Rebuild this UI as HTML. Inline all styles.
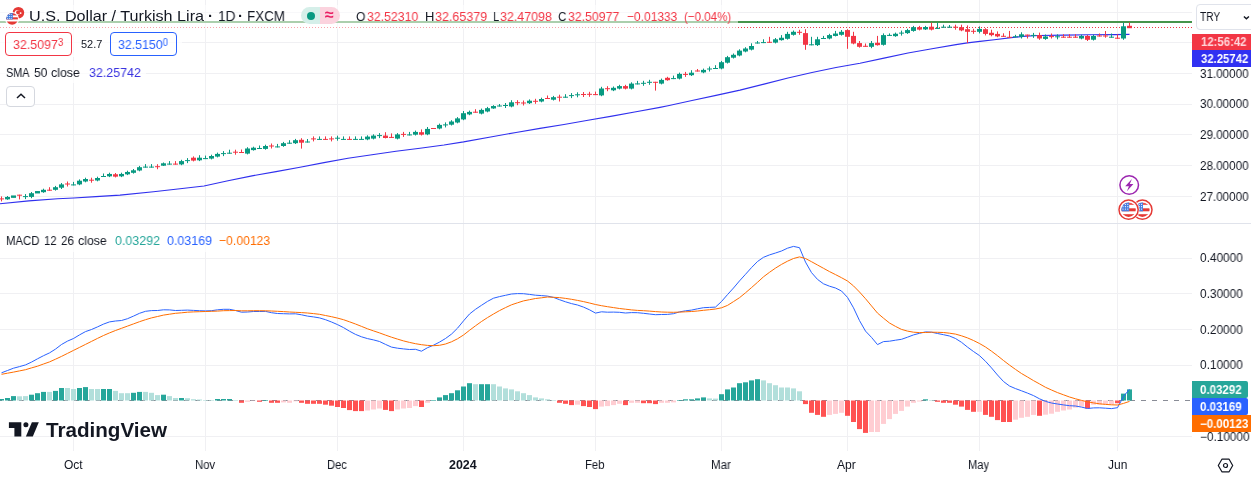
<!DOCTYPE html>
<html><head><meta charset="utf-8"><title>USDTRY chart</title>
<style>
html,body{margin:0;padding:0;background:#fff;}
body{width:1251px;height:478px;position:relative;overflow:hidden;font-family:"Liberation Sans",sans-serif;color:#131722;}
.t{position:absolute;white-space:nowrap;line-height:1;will-change:transform;}
.r{color:#f23645}
.lbl{position:absolute;left:1192px;color:#fff;font-weight:bold;font-size:12px;white-space:nowrap;box-sizing:border-box;padding-left:8px;}
.ax{position:absolute;left:1200px;font-size:12px;white-space:nowrap;line-height:1;color:#131722}
.tm{position:absolute;font-size:12px;white-space:nowrap;line-height:1;transform:translateX(-50%);top:459px}
</style></head><body>
<svg id="chart" width="1251" height="478" viewBox="0 0 1251 478" style="position:absolute;left:0;top:0" shape-rendering="auto">
<g stroke="#f0f0f3" stroke-width="1" shape-rendering="crispEdges">
<line x1="73.5" y1="0" x2="73.5" y2="451"/>
<line x1="205.5" y1="0" x2="205.5" y2="451"/>
<line x1="337.5" y1="0" x2="337.5" y2="451"/>
<line x1="463.5" y1="0" x2="463.5" y2="451"/>
<line x1="595.5" y1="0" x2="595.5" y2="451"/>
<line x1="721.5" y1="0" x2="721.5" y2="451"/>
<line x1="847.5" y1="0" x2="847.5" y2="451"/>
<line x1="979.5" y1="0" x2="979.5" y2="451"/>
<line x1="1117.5" y1="0" x2="1117.5" y2="451"/>
<line x1="0" y1="12.5" x2="1192" y2="12.5"/>
<line x1="0" y1="42.5" x2="1192" y2="42.5"/>
<line x1="0" y1="73.5" x2="1192" y2="73.5"/>
<line x1="0" y1="104.5" x2="1192" y2="104.5"/>
<line x1="0" y1="134.5" x2="1192" y2="134.5"/>
<line x1="0" y1="165.5" x2="1192" y2="165.5"/>
<line x1="0" y1="196.5" x2="1192" y2="196.5"/>
<line x1="0" y1="258.5" x2="1192" y2="258.5"/>
<line x1="0" y1="293.5" x2="1192" y2="293.5"/>
<line x1="0" y1="329.5" x2="1192" y2="329.5"/>
<line x1="0" y1="365.5" x2="1192" y2="365.5"/>
<line x1="0" y1="436.5" x2="1192" y2="436.5"/>
</g>
<line x1="0" y1="223.5" x2="1251" y2="223.5" stroke="#e0e3eb" stroke-width="1" shape-rendering="crispEdges"/>
<line x1="0" y1="22" x2="1192" y2="22" stroke="#46944b" stroke-width="2" shape-rendering="crispEdges"/>
<line x1="0" y1="27.5" x2="1192" y2="27.5" stroke="#f23645" stroke-width="1" stroke-dasharray="1 2" shape-rendering="crispEdges"/>
<polyline fill="none" stroke="#3030ee" stroke-width="1.1" stroke-linejoin="round" points="0.0,203.8 28.8,200.9 57.6,198.8 73.7,198.0 95.9,196.6 120.0,195.1 153.5,191.8 180.0,188.8 204.0,186.0 228.0,180.7 252.0,175.9 276.0,171.6 300.0,167.2 324.0,162.6 348.0,158.3 372.0,154.7 396.0,151.3 420.0,148.2 444.0,145.0 463.6,141.9 492.0,136.7 516.0,132.5 540.0,128.4 564.0,124.5 588.0,120.3 612.0,116.1 636.0,111.7 660.0,107.4 668.0,105.8 692.0,100.5 716.0,95.4 740.0,90.1 764.0,84.1 788.0,78.0 812.0,72.5 836.0,67.5 860.0,63.3 884.0,58.1 908.0,53.0 932.0,48.7 956.0,44.6 967.4,42.9 980.0,41.4 994.2,39.7 1013.4,37.4 1026.2,36.1 1039.0,35.5 1064.5,35.1 1090.0,34.8 1115.7,34.6 1129.5,34.4"/>
<rect x="1.0" y="196.40" width="1" height="5.00" fill="#f23645"/>
<rect x="-1.0" y="198.40" width="5" height="1.00" fill="#f23645"/>
<rect x="7.0" y="196.00" width="1" height="3.80" fill="#089981"/>
<rect x="5.0" y="196.95" width="5" height="2.40" fill="#089981"/>
<rect x="13.0" y="196.00" width="1" height="1.30" fill="#089981"/>
<rect x="11.0" y="195.45" width="5" height="2.40" fill="#089981"/>
<rect x="19.0" y="194.70" width="1" height="4.70" fill="#f23645"/>
<rect x="17.0" y="194.70" width="5" height="1.00" fill="#f23645"/>
<rect x="25.0" y="194.10" width="1" height="5.00" fill="#089981"/>
<rect x="23.0" y="196.10" width="5" height="1.00" fill="#089981"/>
<rect x="31.0" y="192.00" width="1" height="6.20" fill="#089981"/>
<rect x="29.0" y="193.20" width="5" height="3.70" fill="#089981"/>
<rect x="37.0" y="191.50" width="1" height="1.50" fill="#089981"/>
<rect x="35.0" y="191.05" width="5" height="2.40" fill="#089981"/>
<rect x="43.0" y="188.70" width="1" height="4.10" fill="#089981"/>
<rect x="41.0" y="189.80" width="5" height="2.40" fill="#089981"/>
<rect x="49.0" y="187.20" width="1" height="3.50" fill="#f23645"/>
<rect x="47.0" y="189.70" width="5" height="1.00" fill="#f23645"/>
<rect x="55.0" y="185.90" width="1" height="4.70" fill="#089981"/>
<rect x="53.0" y="187.20" width="5" height="2.60" fill="#089981"/>
<rect x="61.0" y="183.00" width="1" height="6.00" fill="#089981"/>
<rect x="59.0" y="184.40" width="5" height="3.30" fill="#089981"/>
<rect x="67.0" y="181.50" width="1" height="5.00" fill="#f23645"/>
<rect x="65.0" y="183.50" width="5" height="1.00" fill="#f23645"/>
<rect x="73.0" y="181.90" width="1" height="3.50" fill="#089981"/>
<rect x="71.0" y="184.40" width="5" height="1.00" fill="#089981"/>
<rect x="79.0" y="179.40" width="1" height="5.80" fill="#089981"/>
<rect x="77.0" y="180.70" width="5" height="3.70" fill="#089981"/>
<rect x="85.0" y="177.70" width="1" height="4.60" fill="#089981"/>
<rect x="83.0" y="179.00" width="5" height="2.50" fill="#089981"/>
<rect x="91.0" y="177.70" width="1" height="5.00" fill="#f23645"/>
<rect x="89.0" y="179.70" width="5" height="1.00" fill="#f23645"/>
<rect x="97.0" y="176.70" width="1" height="4.60" fill="#089981"/>
<rect x="95.0" y="178.00" width="5" height="2.50" fill="#089981"/>
<rect x="103.0" y="173.50" width="1" height="3.50" fill="#089981"/>
<rect x="101.0" y="176.00" width="5" height="1.00" fill="#089981"/>
<rect x="109.0" y="172.70" width="1" height="4.40" fill="#089981"/>
<rect x="107.0" y="173.95" width="5" height="2.40" fill="#089981"/>
<rect x="115.0" y="173.00" width="1" height="4.40" fill="#f23645"/>
<rect x="113.0" y="174.25" width="5" height="2.40" fill="#f23645"/>
<rect x="121.0" y="172.70" width="1" height="4.40" fill="#089981"/>
<rect x="119.0" y="173.95" width="5" height="2.40" fill="#089981"/>
<rect x="127.0" y="170.70" width="1" height="4.40" fill="#089981"/>
<rect x="125.0" y="171.95" width="5" height="2.40" fill="#089981"/>
<rect x="133.0" y="169.00" width="1" height="4.60" fill="#089981"/>
<rect x="131.0" y="170.30" width="5" height="2.50" fill="#089981"/>
<rect x="139.0" y="165.90" width="1" height="5.40" fill="#089981"/>
<rect x="137.0" y="167.20" width="5" height="3.30" fill="#089981"/>
<rect x="145.0" y="164.10" width="1" height="3.50" fill="#089981"/>
<rect x="143.0" y="166.60" width="5" height="1.00" fill="#089981"/>
<rect x="151.0" y="164.10" width="1" height="3.50" fill="#089981"/>
<rect x="149.0" y="166.60" width="5" height="1.00" fill="#089981"/>
<rect x="157.0" y="164.20" width="1" height="5.00" fill="#f23645"/>
<rect x="155.0" y="166.20" width="5" height="1.00" fill="#f23645"/>
<rect x="163.0" y="162.50" width="1" height="3.50" fill="#089981"/>
<rect x="161.0" y="163.30" width="5" height="2.40" fill="#089981"/>
<rect x="169.0" y="161.10" width="1" height="3.50" fill="#089981"/>
<rect x="167.0" y="163.60" width="5" height="1.00" fill="#089981"/>
<rect x="175.0" y="161.10" width="1" height="3.50" fill="#f23645"/>
<rect x="173.0" y="163.60" width="5" height="1.00" fill="#f23645"/>
<rect x="181.0" y="159.80" width="1" height="5.40" fill="#089981"/>
<rect x="179.0" y="161.10" width="5" height="3.30" fill="#089981"/>
<rect x="187.0" y="158.10" width="1" height="5.00" fill="#089981"/>
<rect x="185.0" y="160.10" width="5" height="1.00" fill="#089981"/>
<rect x="193.0" y="156.40" width="1" height="5.00" fill="#f23645"/>
<rect x="191.0" y="157.70" width="5" height="2.90" fill="#f23645"/>
<rect x="199.0" y="155.20" width="1" height="5.90" fill="#089981"/>
<rect x="197.0" y="157.70" width="5" height="2.60" fill="#089981"/>
<rect x="205.0" y="155.60" width="1" height="3.50" fill="#089981"/>
<rect x="203.0" y="158.10" width="5" height="1.00" fill="#089981"/>
<rect x="211.0" y="154.70" width="1" height="4.70" fill="#089981"/>
<rect x="209.0" y="156.00" width="5" height="2.60" fill="#089981"/>
<rect x="217.0" y="152.60" width="1" height="4.80" fill="#089981"/>
<rect x="215.0" y="153.90" width="5" height="2.70" fill="#089981"/>
<rect x="223.0" y="151.10" width="1" height="5.00" fill="#089981"/>
<rect x="221.0" y="153.10" width="5" height="1.00" fill="#089981"/>
<rect x="229.0" y="149.70" width="1" height="4.00" fill="#089981"/>
<rect x="227.0" y="152.70" width="5" height="1.00" fill="#089981"/>
<rect x="235.0" y="149.70" width="1" height="5.00" fill="#f23645"/>
<rect x="233.0" y="151.70" width="5" height="1.00" fill="#f23645"/>
<rect x="241.0" y="149.50" width="1" height="3.50" fill="#f23645"/>
<rect x="239.0" y="152.00" width="5" height="1.00" fill="#f23645"/>
<rect x="247.0" y="147.20" width="1" height="7.20" fill="#089981"/>
<rect x="245.0" y="148.50" width="5" height="5.10" fill="#089981"/>
<rect x="253.0" y="146.70" width="1" height="3.90" fill="#089981"/>
<rect x="251.0" y="147.70" width="5" height="2.40" fill="#089981"/>
<rect x="259.0" y="145.50" width="1" height="3.50" fill="#089981"/>
<rect x="257.0" y="148.00" width="5" height="1.00" fill="#089981"/>
<rect x="265.0" y="144.70" width="1" height="5.00" fill="#089981"/>
<rect x="263.0" y="146.00" width="5" height="2.90" fill="#089981"/>
<rect x="271.0" y="143.50" width="1" height="5.00" fill="#f23645"/>
<rect x="269.0" y="145.50" width="5" height="1.00" fill="#f23645"/>
<rect x="277.0" y="143.90" width="1" height="3.50" fill="#089981"/>
<rect x="275.0" y="146.40" width="5" height="1.00" fill="#089981"/>
<rect x="283.0" y="141.90" width="1" height="4.90" fill="#089981"/>
<rect x="281.0" y="143.20" width="5" height="2.80" fill="#089981"/>
<rect x="289.0" y="140.20" width="1" height="3.50" fill="#089981"/>
<rect x="287.0" y="142.70" width="5" height="1.00" fill="#089981"/>
<rect x="295.0" y="138.90" width="1" height="5.10" fill="#089981"/>
<rect x="293.0" y="140.20" width="5" height="3.00" fill="#089981"/>
<rect x="301.0" y="138.20" width="1" height="10.40" fill="#f23645"/>
<rect x="299.0" y="139.80" width="5" height="2.90" fill="#f23645"/>
<rect x="307.0" y="139.00" width="1" height="3.50" fill="#089981"/>
<rect x="305.0" y="141.50" width="5" height="1.00" fill="#089981"/>
<rect x="313.0" y="136.40" width="1" height="5.00" fill="#f23645"/>
<rect x="311.0" y="138.40" width="5" height="1.00" fill="#f23645"/>
<rect x="319.0" y="136.40" width="1" height="3.50" fill="#089981"/>
<rect x="317.0" y="138.90" width="5" height="1.00" fill="#089981"/>
<rect x="325.0" y="136.40" width="1" height="3.50" fill="#f23645"/>
<rect x="323.0" y="138.90" width="5" height="1.00" fill="#f23645"/>
<rect x="331.0" y="136.40" width="1" height="5.00" fill="#f23645"/>
<rect x="329.0" y="138.40" width="5" height="1.00" fill="#f23645"/>
<rect x="337.0" y="135.70" width="1" height="5.00" fill="#089981"/>
<rect x="335.0" y="137.70" width="5" height="1.00" fill="#089981"/>
<rect x="343.0" y="136.40" width="1" height="3.50" fill="#089981"/>
<rect x="341.0" y="138.90" width="5" height="1.00" fill="#089981"/>
<rect x="349.0" y="136.40" width="1" height="3.50" fill="#f23645"/>
<rect x="347.0" y="138.90" width="5" height="1.00" fill="#f23645"/>
<rect x="355.0" y="136.40" width="1" height="3.50" fill="#089981"/>
<rect x="353.0" y="138.90" width="5" height="1.00" fill="#089981"/>
<rect x="361.0" y="136.40" width="1" height="3.50" fill="#089981"/>
<rect x="359.0" y="138.90" width="5" height="1.00" fill="#089981"/>
<rect x="367.0" y="135.30" width="1" height="4.90" fill="#089981"/>
<rect x="365.0" y="136.60" width="5" height="2.80" fill="#089981"/>
<rect x="373.0" y="134.30" width="1" height="5.10" fill="#089981"/>
<rect x="371.0" y="135.60" width="5" height="3.00" fill="#089981"/>
<rect x="379.0" y="133.10" width="1" height="5.00" fill="#089981"/>
<rect x="377.0" y="135.10" width="5" height="1.00" fill="#089981"/>
<rect x="385.0" y="132.20" width="1" height="6.20" fill="#f23645"/>
<rect x="383.0" y="135.60" width="5" height="2.40" fill="#f23645"/>
<rect x="391.0" y="133.40" width="1" height="4.50" fill="#f23645"/>
<rect x="389.0" y="136.90" width="5" height="1.00" fill="#f23645"/>
<rect x="397.0" y="133.10" width="1" height="6.30" fill="#089981"/>
<rect x="395.0" y="134.40" width="5" height="4.20" fill="#089981"/>
<rect x="403.0" y="131.90" width="1" height="5.00" fill="#f23645"/>
<rect x="401.0" y="133.90" width="5" height="1.00" fill="#f23645"/>
<rect x="409.0" y="131.90" width="1" height="3.50" fill="#089981"/>
<rect x="407.0" y="134.40" width="5" height="1.00" fill="#089981"/>
<rect x="415.0" y="130.60" width="1" height="4.90" fill="#089981"/>
<rect x="413.0" y="131.90" width="5" height="2.80" fill="#089981"/>
<rect x="421.0" y="129.40" width="1" height="6.10" fill="#f23645"/>
<rect x="419.0" y="132.20" width="5" height="2.50" fill="#f23645"/>
<rect x="427.0" y="127.00" width="1" height="8.20" fill="#089981"/>
<rect x="425.0" y="128.90" width="5" height="5.50" fill="#089981"/>
<rect x="433.0" y="128.00" width="1" height="1.00" fill="#f23645"/>
<rect x="431.0" y="128.00" width="5" height="1.00" fill="#f23645"/>
<rect x="439.0" y="123.60" width="1" height="5.70" fill="#089981"/>
<rect x="437.0" y="124.90" width="5" height="3.60" fill="#089981"/>
<rect x="445.0" y="122.40" width="1" height="5.00" fill="#089981"/>
<rect x="443.0" y="124.40" width="5" height="1.00" fill="#089981"/>
<rect x="451.0" y="120.20" width="1" height="5.30" fill="#089981"/>
<rect x="449.0" y="121.50" width="5" height="3.20" fill="#089981"/>
<rect x="457.0" y="117.10" width="1" height="6.20" fill="#089981"/>
<rect x="455.0" y="118.40" width="5" height="4.10" fill="#089981"/>
<rect x="463.0" y="111.00" width="1" height="9.20" fill="#089981"/>
<rect x="461.0" y="113.20" width="5" height="6.20" fill="#089981"/>
<rect x="469.0" y="110.60" width="1" height="4.60" fill="#089981"/>
<rect x="467.0" y="111.90" width="5" height="2.50" fill="#089981"/>
<rect x="475.0" y="109.20" width="1" height="3.50" fill="#f23645"/>
<rect x="473.0" y="111.70" width="5" height="1.00" fill="#f23645"/>
<rect x="481.0" y="108.60" width="1" height="5.80" fill="#089981"/>
<rect x="479.0" y="109.90" width="5" height="3.70" fill="#089981"/>
<rect x="487.0" y="106.90" width="1" height="5.40" fill="#089981"/>
<rect x="485.0" y="108.20" width="5" height="3.30" fill="#089981"/>
<rect x="493.0" y="105.20" width="1" height="3.60" fill="#089981"/>
<rect x="491.0" y="106.05" width="5" height="2.40" fill="#089981"/>
<rect x="499.0" y="104.00" width="1" height="2.50" fill="#089981"/>
<rect x="497.0" y="105.50" width="5" height="1.00" fill="#089981"/>
<rect x="505.0" y="103.00" width="1" height="5.00" fill="#089981"/>
<rect x="503.0" y="105.00" width="5" height="1.00" fill="#089981"/>
<rect x="511.0" y="100.20" width="1" height="7.10" fill="#089981"/>
<rect x="509.0" y="102.30" width="5" height="4.20" fill="#089981"/>
<rect x="517.0" y="100.20" width="1" height="5.00" fill="#f23645"/>
<rect x="515.0" y="102.20" width="5" height="1.00" fill="#f23645"/>
<rect x="523.0" y="100.50" width="1" height="5.00" fill="#f23645"/>
<rect x="521.0" y="102.50" width="5" height="1.00" fill="#f23645"/>
<rect x="529.0" y="99.40" width="1" height="4.60" fill="#089981"/>
<rect x="527.0" y="100.70" width="5" height="2.50" fill="#089981"/>
<rect x="535.0" y="98.80" width="1" height="5.00" fill="#f23645"/>
<rect x="533.0" y="100.80" width="5" height="1.00" fill="#f23645"/>
<rect x="541.0" y="97.70" width="1" height="4.60" fill="#089981"/>
<rect x="539.0" y="99.00" width="5" height="2.50" fill="#089981"/>
<rect x="547.0" y="95.50" width="1" height="3.50" fill="#f23645"/>
<rect x="545.0" y="98.00" width="5" height="1.00" fill="#f23645"/>
<rect x="553.0" y="95.90" width="1" height="4.60" fill="#089981"/>
<rect x="551.0" y="97.20" width="5" height="2.50" fill="#089981"/>
<rect x="559.0" y="94.70" width="1" height="6.80" fill="#f23645"/>
<rect x="557.0" y="96.70" width="5" height="1.00" fill="#f23645"/>
<rect x="565.0" y="94.20" width="1" height="3.50" fill="#089981"/>
<rect x="563.0" y="96.70" width="5" height="1.00" fill="#089981"/>
<rect x="571.0" y="93.10" width="1" height="5.00" fill="#089981"/>
<rect x="569.0" y="95.10" width="5" height="1.00" fill="#089981"/>
<rect x="577.0" y="92.30" width="1" height="5.00" fill="#089981"/>
<rect x="575.0" y="94.30" width="5" height="1.00" fill="#089981"/>
<rect x="583.0" y="92.00" width="1" height="5.00" fill="#f23645"/>
<rect x="581.0" y="94.00" width="5" height="1.00" fill="#f23645"/>
<rect x="589.0" y="91.80" width="1" height="5.00" fill="#f23645"/>
<rect x="587.0" y="93.80" width="5" height="1.00" fill="#f23645"/>
<rect x="595.0" y="91.60" width="1" height="3.50" fill="#f23645"/>
<rect x="593.0" y="94.10" width="5" height="1.00" fill="#f23645"/>
<rect x="601.0" y="86.80" width="1" height="9.40" fill="#089981"/>
<rect x="599.0" y="88.50" width="5" height="6.90" fill="#089981"/>
<rect x="607.0" y="86.20" width="1" height="5.00" fill="#f23645"/>
<rect x="605.0" y="88.20" width="5" height="1.00" fill="#f23645"/>
<rect x="613.0" y="86.50" width="1" height="4.60" fill="#089981"/>
<rect x="611.0" y="87.80" width="5" height="2.50" fill="#089981"/>
<rect x="619.0" y="84.80" width="1" height="4.60" fill="#089981"/>
<rect x="617.0" y="86.10" width="5" height="2.50" fill="#089981"/>
<rect x="625.0" y="84.80" width="1" height="4.60" fill="#f23645"/>
<rect x="623.0" y="86.10" width="5" height="2.50" fill="#f23645"/>
<rect x="631.0" y="82.30" width="1" height="7.10" fill="#089981"/>
<rect x="629.0" y="83.60" width="5" height="5.00" fill="#089981"/>
<rect x="637.0" y="80.90" width="1" height="3.50" fill="#089981"/>
<rect x="635.0" y="83.40" width="5" height="1.00" fill="#089981"/>
<rect x="643.0" y="80.80" width="1" height="5.00" fill="#089981"/>
<rect x="641.0" y="82.80" width="5" height="1.00" fill="#089981"/>
<rect x="649.0" y="79.80" width="1" height="5.00" fill="#089981"/>
<rect x="647.0" y="81.80" width="5" height="1.00" fill="#089981"/>
<rect x="655.0" y="81.80" width="1" height="8.80" fill="#f23645"/>
<rect x="653.0" y="81.80" width="5" height="1.00" fill="#f23645"/>
<rect x="661.0" y="78.60" width="1" height="5.80" fill="#089981"/>
<rect x="659.0" y="79.90" width="5" height="3.70" fill="#089981"/>
<rect x="667.0" y="76.80" width="1" height="3.90" fill="#f23645"/>
<rect x="665.0" y="77.80" width="5" height="2.40" fill="#f23645"/>
<rect x="673.0" y="75.60" width="1" height="3.50" fill="#089981"/>
<rect x="671.0" y="78.10" width="5" height="1.00" fill="#089981"/>
<rect x="679.0" y="72.60" width="1" height="6.80" fill="#089981"/>
<rect x="677.0" y="73.90" width="5" height="4.70" fill="#089981"/>
<rect x="685.0" y="71.90" width="1" height="5.00" fill="#f23645"/>
<rect x="683.0" y="73.90" width="5" height="1.00" fill="#f23645"/>
<rect x="691.0" y="70.20" width="1" height="5.80" fill="#089981"/>
<rect x="689.0" y="72.70" width="5" height="2.50" fill="#089981"/>
<rect x="697.0" y="69.00" width="1" height="2.50" fill="#f23645"/>
<rect x="695.0" y="70.50" width="5" height="1.00" fill="#f23645"/>
<rect x="703.0" y="68.60" width="1" height="4.60" fill="#089981"/>
<rect x="701.0" y="69.90" width="5" height="2.50" fill="#089981"/>
<rect x="709.0" y="66.50" width="1" height="5.00" fill="#089981"/>
<rect x="707.0" y="68.50" width="5" height="1.00" fill="#089981"/>
<rect x="715.0" y="65.20" width="1" height="3.80" fill="#089981"/>
<rect x="713.0" y="68.00" width="5" height="1.00" fill="#089981"/>
<rect x="721.0" y="60.90" width="1" height="8.40" fill="#089981"/>
<rect x="719.0" y="62.20" width="5" height="6.30" fill="#089981"/>
<rect x="727.0" y="55.90" width="1" height="7.60" fill="#089981"/>
<rect x="725.0" y="57.20" width="5" height="5.50" fill="#089981"/>
<rect x="733.0" y="53.50" width="1" height="5.00" fill="#089981"/>
<rect x="731.0" y="54.80" width="5" height="2.90" fill="#089981"/>
<rect x="739.0" y="49.30" width="1" height="7.00" fill="#089981"/>
<rect x="737.0" y="50.60" width="5" height="4.90" fill="#089981"/>
<rect x="745.0" y="47.20" width="1" height="5.10" fill="#089981"/>
<rect x="743.0" y="48.50" width="5" height="3.00" fill="#089981"/>
<rect x="751.0" y="43.30" width="1" height="7.10" fill="#089981"/>
<rect x="749.0" y="46.00" width="5" height="3.60" fill="#089981"/>
<rect x="757.0" y="41.00" width="1" height="2.50" fill="#089981"/>
<rect x="755.0" y="42.50" width="5" height="1.00" fill="#089981"/>
<rect x="763.0" y="39.30" width="1" height="3.80" fill="#089981"/>
<rect x="761.0" y="42.10" width="5" height="1.00" fill="#089981"/>
<rect x="769.0" y="36.80" width="1" height="6.00" fill="#f23645"/>
<rect x="767.0" y="41.80" width="5" height="1.00" fill="#f23645"/>
<rect x="775.0" y="38.00" width="1" height="5.40" fill="#089981"/>
<rect x="773.0" y="39.30" width="5" height="3.30" fill="#089981"/>
<rect x="781.0" y="35.10" width="1" height="5.50" fill="#089981"/>
<rect x="779.0" y="37.75" width="5" height="2.40" fill="#089981"/>
<rect x="787.0" y="31.80" width="1" height="7.80" fill="#089981"/>
<rect x="785.0" y="33.90" width="5" height="4.90" fill="#089981"/>
<rect x="793.0" y="30.50" width="1" height="5.10" fill="#089981"/>
<rect x="791.0" y="31.80" width="5" height="3.00" fill="#089981"/>
<rect x="799.0" y="29.80" width="1" height="5.00" fill="#f23645"/>
<rect x="797.0" y="31.80" width="5" height="1.00" fill="#f23645"/>
<rect x="805.0" y="29.20" width="1" height="20.60" fill="#f23645"/>
<rect x="803.0" y="33.10" width="5" height="11.70" fill="#f23645"/>
<rect x="811.0" y="36.80" width="1" height="8.50" fill="#089981"/>
<rect x="809.0" y="44.30" width="5" height="1.00" fill="#089981"/>
<rect x="817.0" y="36.80" width="1" height="9.20" fill="#089981"/>
<rect x="815.0" y="39.30" width="5" height="5.80" fill="#089981"/>
<rect x="823.0" y="35.90" width="1" height="3.10" fill="#089981"/>
<rect x="821.0" y="38.00" width="5" height="1.00" fill="#089981"/>
<rect x="829.0" y="33.80" width="1" height="5.50" fill="#089981"/>
<rect x="827.0" y="35.10" width="5" height="3.40" fill="#089981"/>
<rect x="835.0" y="30.90" width="1" height="5.50" fill="#089981"/>
<rect x="833.0" y="33.55" width="5" height="2.40" fill="#089981"/>
<rect x="841.0" y="30.00" width="1" height="5.60" fill="#089981"/>
<rect x="839.0" y="31.80" width="5" height="3.00" fill="#089981"/>
<rect x="847.0" y="29.20" width="1" height="19.60" fill="#f23645"/>
<rect x="845.0" y="30.10" width="5" height="6.70" fill="#f23645"/>
<rect x="853.0" y="31.80" width="1" height="12.50" fill="#f23645"/>
<rect x="851.0" y="35.90" width="5" height="7.60" fill="#f23645"/>
<rect x="859.0" y="41.00" width="1" height="6.60" fill="#f23645"/>
<rect x="857.0" y="43.10" width="5" height="3.70" fill="#f23645"/>
<rect x="865.0" y="43.50" width="1" height="3.30" fill="#f23645"/>
<rect x="863.0" y="45.80" width="5" height="1.00" fill="#f23645"/>
<rect x="871.0" y="41.00" width="1" height="7.20" fill="#089981"/>
<rect x="869.0" y="43.10" width="5" height="3.70" fill="#089981"/>
<rect x="877.0" y="35.90" width="1" height="9.70" fill="#f23645"/>
<rect x="875.0" y="42.75" width="5" height="2.40" fill="#f23645"/>
<rect x="883.0" y="33.40" width="1" height="12.20" fill="#089981"/>
<rect x="881.0" y="35.10" width="5" height="9.70" fill="#089981"/>
<rect x="889.0" y="33.40" width="1" height="2.50" fill="#089981"/>
<rect x="887.0" y="34.90" width="5" height="1.00" fill="#089981"/>
<rect x="895.0" y="32.60" width="1" height="4.20" fill="#089981"/>
<rect x="893.0" y="33.75" width="5" height="2.40" fill="#089981"/>
<rect x="901.0" y="30.60" width="1" height="5.00" fill="#089981"/>
<rect x="899.0" y="32.60" width="5" height="1.00" fill="#089981"/>
<rect x="907.0" y="28.80" width="1" height="5.10" fill="#089981"/>
<rect x="905.0" y="30.10" width="5" height="3.00" fill="#089981"/>
<rect x="913.0" y="25.90" width="1" height="5.80" fill="#089981"/>
<rect x="911.0" y="27.20" width="5" height="3.70" fill="#089981"/>
<rect x="919.0" y="25.90" width="1" height="4.50" fill="#f23645"/>
<rect x="917.0" y="27.20" width="5" height="2.40" fill="#f23645"/>
<rect x="925.0" y="25.90" width="1" height="4.10" fill="#089981"/>
<rect x="923.0" y="27.00" width="5" height="2.40" fill="#089981"/>
<rect x="931.0" y="22.60" width="1" height="7.80" fill="#f23645"/>
<rect x="929.0" y="26.70" width="5" height="2.90" fill="#f23645"/>
<rect x="937.0" y="22.60" width="1" height="6.30" fill="#089981"/>
<rect x="935.0" y="27.90" width="5" height="1.00" fill="#089981"/>
<rect x="943.0" y="24.70" width="1" height="3.00" fill="#089981"/>
<rect x="941.0" y="26.70" width="5" height="1.00" fill="#089981"/>
<rect x="949.0" y="25.00" width="1" height="2.70" fill="#089981"/>
<rect x="947.0" y="26.70" width="5" height="1.00" fill="#089981"/>
<rect x="955.0" y="24.70" width="1" height="5.00" fill="#f23645"/>
<rect x="953.0" y="26.70" width="5" height="1.00" fill="#f23645"/>
<rect x="961.0" y="24.70" width="1" height="6.50" fill="#f23645"/>
<rect x="959.0" y="27.20" width="5" height="3.20" fill="#f23645"/>
<rect x="967.0" y="25.40" width="1" height="17.70" fill="#f23645"/>
<rect x="965.0" y="29.20" width="5" height="2.60" fill="#f23645"/>
<rect x="973.0" y="28.80" width="1" height="5.00" fill="#f23645"/>
<rect x="971.0" y="30.80" width="5" height="1.00" fill="#f23645"/>
<rect x="979.0" y="26.40" width="1" height="7.00" fill="#089981"/>
<rect x="977.0" y="28.90" width="5" height="2.90" fill="#089981"/>
<rect x="985.0" y="28.20" width="1" height="7.20" fill="#f23645"/>
<rect x="983.0" y="29.20" width="5" height="4.70" fill="#f23645"/>
<rect x="991.0" y="29.70" width="1" height="6.60" fill="#f23645"/>
<rect x="989.0" y="32.75" width="5" height="2.40" fill="#f23645"/>
<rect x="997.0" y="31.40" width="1" height="5.80" fill="#f23645"/>
<rect x="995.0" y="33.90" width="5" height="2.50" fill="#f23645"/>
<rect x="1003.0" y="33.30" width="1" height="3.50" fill="#f23645"/>
<rect x="1001.0" y="35.80" width="5" height="1.00" fill="#f23645"/>
<rect x="1009.0" y="30.90" width="1" height="6.90" fill="#f23645"/>
<rect x="1007.0" y="36.80" width="5" height="1.00" fill="#f23645"/>
<rect x="1015.0" y="34.80" width="1" height="2.50" fill="#089981"/>
<rect x="1013.0" y="36.30" width="5" height="1.00" fill="#089981"/>
<rect x="1021.0" y="32.30" width="1" height="6.20" fill="#089981"/>
<rect x="1019.0" y="34.30" width="5" height="2.50" fill="#089981"/>
<rect x="1027.0" y="34.60" width="1" height="3.90" fill="#f23645"/>
<rect x="1025.0" y="34.60" width="5" height="1.00" fill="#f23645"/>
<rect x="1033.0" y="32.90" width="1" height="5.00" fill="#089981"/>
<rect x="1031.0" y="34.90" width="5" height="1.00" fill="#089981"/>
<rect x="1039.0" y="32.60" width="1" height="7.20" fill="#f23645"/>
<rect x="1037.0" y="35.10" width="5" height="3.40" fill="#f23645"/>
<rect x="1045.0" y="34.50" width="1" height="5.30" fill="#089981"/>
<rect x="1043.0" y="36.50" width="5" height="2.40" fill="#089981"/>
<rect x="1051.0" y="33.50" width="1" height="5.00" fill="#f23645"/>
<rect x="1049.0" y="36.10" width="5" height="1.00" fill="#f23645"/>
<rect x="1057.0" y="34.30" width="1" height="5.00" fill="#089981"/>
<rect x="1055.0" y="36.30" width="5" height="1.00" fill="#089981"/>
<rect x="1063.0" y="34.20" width="1" height="3.50" fill="#f23645"/>
<rect x="1061.0" y="36.70" width="5" height="1.00" fill="#f23645"/>
<rect x="1069.0" y="34.20" width="1" height="3.50" fill="#f23645"/>
<rect x="1067.0" y="36.70" width="5" height="1.00" fill="#f23645"/>
<rect x="1075.0" y="34.20" width="1" height="3.50" fill="#f23645"/>
<rect x="1073.0" y="36.70" width="5" height="1.00" fill="#f23645"/>
<rect x="1081.0" y="34.70" width="1" height="4.60" fill="#089981"/>
<rect x="1079.0" y="36.00" width="5" height="2.50" fill="#089981"/>
<rect x="1087.0" y="35.00" width="1" height="6.00" fill="#f23645"/>
<rect x="1085.0" y="36.00" width="5" height="3.80" fill="#f23645"/>
<rect x="1093.0" y="34.70" width="1" height="5.80" fill="#089981"/>
<rect x="1091.0" y="36.00" width="5" height="3.70" fill="#089981"/>
<rect x="1099.0" y="33.50" width="1" height="3.00" fill="#f23645"/>
<rect x="1097.0" y="35.50" width="5" height="1.00" fill="#f23645"/>
<rect x="1105.0" y="31.00" width="1" height="6.70" fill="#f23645"/>
<rect x="1103.0" y="35.50" width="5" height="1.00" fill="#f23645"/>
<rect x="1111.0" y="33.50" width="1" height="4.20" fill="#089981"/>
<rect x="1109.0" y="36.70" width="5" height="1.00" fill="#089981"/>
<rect x="1117.0" y="34.30" width="1" height="4.40" fill="#f23645"/>
<rect x="1115.0" y="37.70" width="5" height="1.00" fill="#f23645"/>
<rect x="1123.0" y="22.60" width="1" height="17.20" fill="#089981"/>
<rect x="1121.0" y="26.30" width="5" height="12.20" fill="#089981"/>
<rect x="1129.0" y="22.60" width="1" height="5.00" fill="#f23645"/>
<rect x="1127.0" y="25.80" width="5" height="2.40" fill="#f23645"/>
<line x1="-3" y1="400.5" x2="1192" y2="400.5" stroke="#8a8d97" stroke-width="1" stroke-dasharray="5 6" shape-rendering="crispEdges"/>
<rect x="-1.0" y="399.00" width="5" height="1.50" fill="#26a69a"/>
<rect x="5.0" y="398.00" width="5" height="2.50" fill="#26a69a"/>
<rect x="11.0" y="396.10" width="5" height="4.40" fill="#26a69a"/>
<rect x="17.0" y="396.30" width="5" height="4.20" fill="#b2dfdb"/>
<rect x="23.0" y="396.10" width="5" height="4.40" fill="#b2dfdb"/>
<rect x="29.0" y="394.70" width="5" height="5.80" fill="#26a69a"/>
<rect x="35.0" y="393.20" width="5" height="7.30" fill="#26a69a"/>
<rect x="41.0" y="391.90" width="5" height="8.60" fill="#26a69a"/>
<rect x="47.0" y="391.90" width="5" height="8.60" fill="#b2dfdb"/>
<rect x="53.0" y="390.90" width="5" height="9.60" fill="#26a69a"/>
<rect x="59.0" y="388.00" width="5" height="12.50" fill="#26a69a"/>
<rect x="65.0" y="388.00" width="5" height="12.50" fill="#b2dfdb"/>
<rect x="71.0" y="389.00" width="5" height="11.50" fill="#b2dfdb"/>
<rect x="77.0" y="388.00" width="5" height="12.50" fill="#26a69a"/>
<rect x="83.0" y="387.10" width="5" height="13.40" fill="#26a69a"/>
<rect x="89.0" y="389.00" width="5" height="11.50" fill="#b2dfdb"/>
<rect x="95.0" y="389.00" width="5" height="11.50" fill="#b2dfdb"/>
<rect x="101.0" y="389.00" width="5" height="11.50" fill="#26a69a"/>
<rect x="107.0" y="389.00" width="5" height="11.50" fill="#26a69a"/>
<rect x="113.0" y="390.90" width="5" height="9.60" fill="#b2dfdb"/>
<rect x="119.0" y="393.20" width="5" height="7.30" fill="#b2dfdb"/>
<rect x="125.0" y="393.20" width="5" height="7.30" fill="#b2dfdb"/>
<rect x="131.0" y="392.80" width="5" height="7.70" fill="#26a69a"/>
<rect x="137.0" y="391.90" width="5" height="8.60" fill="#26a69a"/>
<rect x="143.0" y="391.90" width="5" height="8.60" fill="#b2dfdb"/>
<rect x="149.0" y="392.80" width="5" height="7.70" fill="#b2dfdb"/>
<rect x="155.0" y="395.10" width="5" height="5.40" fill="#b2dfdb"/>
<rect x="161.0" y="394.70" width="5" height="5.80" fill="#26a69a"/>
<rect x="167.0" y="396.10" width="5" height="4.40" fill="#b2dfdb"/>
<rect x="173.0" y="398.00" width="5" height="2.50" fill="#b2dfdb"/>
<rect x="179.0" y="398.00" width="5" height="2.50" fill="#26a69a"/>
<rect x="185.0" y="398.20" width="5" height="2.30" fill="#b2dfdb"/>
<rect x="191.0" y="399.20" width="5" height="1.30" fill="#b2dfdb"/>
<rect x="197.0" y="399.50" width="5" height="1.00" fill="#b2dfdb"/>
<rect x="203.0" y="400.00" width="5" height="0.60" fill="#b2dfdb"/>
<rect x="209.0" y="400.10" width="5" height="0.60" fill="#b2dfdb"/>
<rect x="215.0" y="399.00" width="5" height="1.50" fill="#26a69a"/>
<rect x="221.0" y="399.00" width="5" height="1.50" fill="#26a69a"/>
<rect x="227.0" y="399.00" width="5" height="1.50" fill="#26a69a"/>
<rect x="233.0" y="400.00" width="5" height="0.60" fill="#b2dfdb"/>
<rect x="239.0" y="400.50" width="5" height="2.30" fill="#ff5252"/>
<rect x="245.0" y="400.50" width="5" height="1.30" fill="#ffcdd2"/>
<rect x="251.0" y="400.50" width="5" height="0.30" fill="#ffcdd2"/>
<rect x="257.0" y="400.50" width="5" height="1.30" fill="#ff5252"/>
<rect x="263.0" y="400.20" width="5" height="0.60" fill="#26a69a"/>
<rect x="269.0" y="400.50" width="5" height="2.30" fill="#ff5252"/>
<rect x="275.0" y="400.50" width="5" height="2.30" fill="#ff5252"/>
<rect x="281.0" y="400.50" width="5" height="1.90" fill="#ffcdd2"/>
<rect x="287.0" y="400.50" width="5" height="2.30" fill="#ffcdd2"/>
<rect x="293.0" y="400.50" width="5" height="0.80" fill="#ffcdd2"/>
<rect x="299.0" y="400.50" width="5" height="2.30" fill="#ff5252"/>
<rect x="305.0" y="400.50" width="5" height="3.30" fill="#ff5252"/>
<rect x="311.0" y="400.50" width="5" height="3.30" fill="#ff5252"/>
<rect x="317.0" y="400.50" width="5" height="3.30" fill="#ff5252"/>
<rect x="323.0" y="400.50" width="5" height="4.20" fill="#ff5252"/>
<rect x="329.0" y="400.50" width="5" height="5.20" fill="#ff5252"/>
<rect x="335.0" y="400.50" width="5" height="6.50" fill="#ff5252"/>
<rect x="341.0" y="400.50" width="5" height="7.50" fill="#ff5252"/>
<rect x="347.0" y="400.50" width="5" height="9.60" fill="#ff5252"/>
<rect x="353.0" y="400.50" width="5" height="10.60" fill="#ff5252"/>
<rect x="359.0" y="400.50" width="5" height="10.60" fill="#ff5252"/>
<rect x="365.0" y="400.50" width="5" height="10.00" fill="#ffcdd2"/>
<rect x="371.0" y="400.50" width="5" height="9.00" fill="#ffcdd2"/>
<rect x="377.0" y="400.50" width="5" height="8.00" fill="#ffcdd2"/>
<rect x="383.0" y="400.50" width="5" height="9.40" fill="#ff5252"/>
<rect x="389.0" y="400.50" width="5" height="10.60" fill="#ff5252"/>
<rect x="395.0" y="400.50" width="5" height="9.00" fill="#ffcdd2"/>
<rect x="401.0" y="400.50" width="5" height="8.00" fill="#ffcdd2"/>
<rect x="407.0" y="400.50" width="5" height="7.50" fill="#ffcdd2"/>
<rect x="413.0" y="400.50" width="5" height="5.60" fill="#ffcdd2"/>
<rect x="419.0" y="400.50" width="5" height="6.50" fill="#ff5252"/>
<rect x="425.0" y="400.50" width="5" height="2.30" fill="#ffcdd2"/>
<rect x="431.0" y="400.00" width="5" height="0.60" fill="#26a69a"/>
<rect x="437.0" y="397.40" width="5" height="3.10" fill="#26a69a"/>
<rect x="443.0" y="395.10" width="5" height="5.40" fill="#26a69a"/>
<rect x="449.0" y="393.20" width="5" height="7.30" fill="#26a69a"/>
<rect x="455.0" y="390.30" width="5" height="10.20" fill="#26a69a"/>
<rect x="461.0" y="386.50" width="5" height="14.00" fill="#26a69a"/>
<rect x="467.0" y="383.20" width="5" height="17.30" fill="#26a69a"/>
<rect x="473.0" y="384.20" width="5" height="16.30" fill="#b2dfdb"/>
<rect x="479.0" y="384.20" width="5" height="16.30" fill="#26a69a"/>
<rect x="485.0" y="384.20" width="5" height="16.30" fill="#26a69a"/>
<rect x="491.0" y="384.20" width="5" height="16.30" fill="#b2dfdb"/>
<rect x="497.0" y="386.50" width="5" height="14.00" fill="#b2dfdb"/>
<rect x="503.0" y="388.40" width="5" height="12.10" fill="#b2dfdb"/>
<rect x="509.0" y="389.40" width="5" height="11.10" fill="#b2dfdb"/>
<rect x="515.0" y="391.30" width="5" height="9.20" fill="#b2dfdb"/>
<rect x="521.0" y="393.20" width="5" height="7.30" fill="#b2dfdb"/>
<rect x="527.0" y="395.10" width="5" height="5.40" fill="#b2dfdb"/>
<rect x="533.0" y="397.40" width="5" height="3.10" fill="#b2dfdb"/>
<rect x="539.0" y="398.40" width="5" height="2.10" fill="#b2dfdb"/>
<rect x="545.0" y="399.30" width="5" height="1.20" fill="#b2dfdb"/>
<rect x="551.0" y="400.20" width="5" height="0.60" fill="#b2dfdb"/>
<rect x="557.0" y="400.50" width="5" height="2.30" fill="#ff5252"/>
<rect x="563.0" y="400.50" width="5" height="3.30" fill="#ff5252"/>
<rect x="569.0" y="400.50" width="5" height="4.60" fill="#ff5252"/>
<rect x="575.0" y="400.50" width="5" height="4.20" fill="#ffcdd2"/>
<rect x="581.0" y="400.50" width="5" height="5.60" fill="#ff5252"/>
<rect x="587.0" y="400.50" width="5" height="6.50" fill="#ff5252"/>
<rect x="593.0" y="400.50" width="5" height="8.60" fill="#ff5252"/>
<rect x="599.0" y="400.50" width="5" height="6.10" fill="#ffcdd2"/>
<rect x="605.0" y="400.50" width="5" height="5.60" fill="#ffcdd2"/>
<rect x="611.0" y="400.50" width="5" height="4.60" fill="#ffcdd2"/>
<rect x="617.0" y="400.50" width="5" height="3.30" fill="#ffcdd2"/>
<rect x="623.0" y="400.50" width="5" height="4.60" fill="#ff5252"/>
<rect x="629.0" y="400.50" width="5" height="2.30" fill="#ffcdd2"/>
<rect x="635.0" y="400.50" width="5" height="2.30" fill="#ffcdd2"/>
<rect x="641.0" y="400.50" width="5" height="2.70" fill="#ff5252"/>
<rect x="647.0" y="400.50" width="5" height="2.70" fill="#ff5252"/>
<rect x="653.0" y="400.50" width="5" height="3.60" fill="#ff5252"/>
<rect x="659.0" y="400.50" width="5" height="2.30" fill="#ffcdd2"/>
<rect x="665.0" y="400.50" width="5" height="2.30" fill="#ffcdd2"/>
<rect x="671.0" y="400.50" width="5" height="1.90" fill="#ffcdd2"/>
<rect x="677.0" y="400.00" width="5" height="0.60" fill="#26a69a"/>
<rect x="683.0" y="399.30" width="5" height="1.20" fill="#26a69a"/>
<rect x="689.0" y="399.30" width="5" height="1.20" fill="#26a69a"/>
<rect x="695.0" y="398.40" width="5" height="2.10" fill="#26a69a"/>
<rect x="701.0" y="397.40" width="5" height="3.10" fill="#26a69a"/>
<rect x="707.0" y="398.40" width="5" height="2.10" fill="#b2dfdb"/>
<rect x="713.0" y="398.60" width="5" height="1.90" fill="#b2dfdb"/>
<rect x="719.0" y="394.20" width="5" height="6.30" fill="#26a69a"/>
<rect x="725.0" y="389.40" width="5" height="11.10" fill="#26a69a"/>
<rect x="731.0" y="387.50" width="5" height="13.00" fill="#26a69a"/>
<rect x="737.0" y="383.20" width="5" height="17.30" fill="#26a69a"/>
<rect x="743.0" y="382.30" width="5" height="18.20" fill="#26a69a"/>
<rect x="749.0" y="380.40" width="5" height="20.10" fill="#26a69a"/>
<rect x="755.0" y="379.20" width="5" height="21.30" fill="#26a69a"/>
<rect x="761.0" y="380.40" width="5" height="20.10" fill="#b2dfdb"/>
<rect x="767.0" y="383.20" width="5" height="17.30" fill="#b2dfdb"/>
<rect x="773.0" y="385.20" width="5" height="15.30" fill="#b2dfdb"/>
<rect x="779.0" y="387.50" width="5" height="13.00" fill="#b2dfdb"/>
<rect x="785.0" y="387.50" width="5" height="13.00" fill="#b2dfdb"/>
<rect x="791.0" y="388.40" width="5" height="12.10" fill="#b2dfdb"/>
<rect x="797.0" y="391.30" width="5" height="9.20" fill="#b2dfdb"/>
<rect x="803.0" y="400.50" width="5" height="3.60" fill="#ff5252"/>
<rect x="809.0" y="400.50" width="5" height="12.30" fill="#ff5252"/>
<rect x="815.0" y="400.50" width="5" height="14.40" fill="#ff5252"/>
<rect x="821.0" y="400.50" width="5" height="16.30" fill="#ff5252"/>
<rect x="827.0" y="400.50" width="5" height="14.40" fill="#ffcdd2"/>
<rect x="833.0" y="400.50" width="5" height="13.40" fill="#ffcdd2"/>
<rect x="839.0" y="400.50" width="5" height="12.30" fill="#ffcdd2"/>
<rect x="845.0" y="400.50" width="5" height="15.30" fill="#ff5252"/>
<rect x="851.0" y="400.50" width="5" height="21.50" fill="#ff5252"/>
<rect x="857.0" y="400.50" width="5" height="28.60" fill="#ff5252"/>
<rect x="863.0" y="400.50" width="5" height="32.40" fill="#ff5252"/>
<rect x="869.0" y="400.50" width="5" height="31.50" fill="#ffcdd2"/>
<rect x="875.0" y="400.50" width="5" height="31.50" fill="#ffcdd2"/>
<rect x="881.0" y="400.50" width="5" height="23.40" fill="#ffcdd2"/>
<rect x="887.0" y="400.50" width="5" height="18.60" fill="#ffcdd2"/>
<rect x="893.0" y="400.50" width="5" height="13.40" fill="#ffcdd2"/>
<rect x="899.0" y="400.50" width="5" height="10.40" fill="#ffcdd2"/>
<rect x="905.0" y="400.50" width="5" height="6.10" fill="#ffcdd2"/>
<rect x="911.0" y="400.50" width="5" height="2.30" fill="#ffcdd2"/>
<rect x="917.0" y="400.50" width="5" height="1.00" fill="#ffcdd2"/>
<rect x="923.0" y="399.30" width="5" height="1.20" fill="#26a69a"/>
<rect x="929.0" y="400.30" width="5" height="0.60" fill="#b2dfdb"/>
<rect x="935.0" y="400.50" width="5" height="1.30" fill="#ff5252"/>
<rect x="941.0" y="400.50" width="5" height="2.30" fill="#ff5252"/>
<rect x="947.0" y="400.50" width="5" height="2.30" fill="#ff5252"/>
<rect x="953.0" y="400.50" width="5" height="4.20" fill="#ff5252"/>
<rect x="959.0" y="400.50" width="5" height="6.10" fill="#ff5252"/>
<rect x="965.0" y="400.50" width="5" height="9.40" fill="#ff5252"/>
<rect x="971.0" y="400.50" width="5" height="11.30" fill="#ff5252"/>
<rect x="977.0" y="400.50" width="5" height="11.30" fill="#ffcdd2"/>
<rect x="983.0" y="400.50" width="5" height="14.40" fill="#ff5252"/>
<rect x="989.0" y="400.50" width="5" height="16.30" fill="#ff5252"/>
<rect x="995.0" y="400.50" width="5" height="19.60" fill="#ff5252"/>
<rect x="1001.0" y="400.50" width="5" height="21.50" fill="#ff5252"/>
<rect x="1007.0" y="400.50" width="5" height="21.50" fill="#ff5252"/>
<rect x="1013.0" y="400.50" width="5" height="19.20" fill="#ffcdd2"/>
<rect x="1019.0" y="400.50" width="5" height="17.30" fill="#ffcdd2"/>
<rect x="1025.0" y="400.50" width="5" height="16.30" fill="#ffcdd2"/>
<rect x="1031.0" y="400.50" width="5" height="14.40" fill="#ffcdd2"/>
<rect x="1037.0" y="400.50" width="5" height="15.30" fill="#ff5252"/>
<rect x="1043.0" y="400.50" width="5" height="14.20" fill="#ffcdd2"/>
<rect x="1049.0" y="400.50" width="5" height="13.20" fill="#ffcdd2"/>
<rect x="1055.0" y="400.50" width="5" height="11.30" fill="#ffcdd2"/>
<rect x="1061.0" y="400.50" width="5" height="10.00" fill="#ffcdd2"/>
<rect x="1067.0" y="400.50" width="5" height="9.00" fill="#ffcdd2"/>
<rect x="1073.0" y="400.50" width="5" height="7.10" fill="#ffcdd2"/>
<rect x="1079.0" y="400.50" width="5" height="6.10" fill="#ffcdd2"/>
<rect x="1085.0" y="400.50" width="5" height="8.00" fill="#ff5252"/>
<rect x="1091.0" y="400.50" width="5" height="4.20" fill="#ffcdd2"/>
<rect x="1097.0" y="400.50" width="5" height="4.20" fill="#ffcdd2"/>
<rect x="1103.0" y="400.50" width="5" height="3.80" fill="#ffcdd2"/>
<rect x="1109.0" y="400.50" width="5" height="3.80" fill="#ffcdd2"/>
<rect x="1115.0" y="400.50" width="5" height="2.70" fill="#ff5252"/>
<rect x="1121.0" y="393.60" width="5" height="6.90" fill="#26a69a"/>
<rect x="1127.0" y="389.40" width="5" height="11.10" fill="#26a69a"/>
<polyline fill="none" stroke="#2962ff" stroke-width="1" stroke-linejoin="round" points="1.5,372.8 7.5,370.5 13.5,368.2 19.5,366.6 25.5,364.9 31.5,362.1 37.5,358.8 43.5,355.7 49.5,352.9 55.5,349.1 61.5,344.5 67.5,341.1 73.5,338.5 79.5,334.9 85.5,331.6 91.5,329.5 97.5,326.9 103.5,324.1 109.5,321.9 115.5,321.0 121.5,320.5 127.5,318.7 133.5,316.1 139.5,313.3 145.5,311.3 151.5,310.6 157.5,310.5 163.5,309.8 169.5,309.9 175.5,310.5 181.5,310.3 187.5,310.1 193.5,310.4 199.5,310.7 205.5,310.9 211.5,310.7 217.5,309.8 223.5,309.3 229.5,309.3 235.5,310.5 241.5,312.2 247.5,312.0 253.5,311.5 259.5,311.5 265.5,311.4 271.5,312.7 277.5,313.5 283.5,313.7 289.5,313.9 295.5,313.8 301.5,314.8 307.5,316.1 313.5,316.9 319.5,317.9 325.5,319.7 331.5,322.0 337.5,324.6 343.5,327.6 349.5,331.2 355.5,334.4 361.5,336.8 367.5,338.6 373.5,339.9 379.5,341.5 385.5,344.4 391.5,347.1 397.5,348.2 403.5,348.9 409.5,349.5 415.5,349.3 421.5,351.2 427.5,347.7 433.5,345.2 439.5,342.1 445.5,338.5 451.5,334.1 457.5,328.2 463.5,320.9 469.5,314.0 475.5,309.3 481.5,305.3 487.5,301.4 493.5,298.2 499.5,296.6 505.5,295.3 511.5,294.0 517.5,293.6 523.5,293.7 529.5,294.4 535.5,295.2 541.5,295.6 547.5,296.1 553.5,297.4 559.5,299.7 565.5,301.8 571.5,303.6 577.5,305.0 583.5,307.1 589.5,309.8 595.5,313.1 601.5,311.8 607.5,312.2 613.5,312.1 619.5,312.3 625.5,313.0 631.5,312.6 637.5,312.7 643.5,313.3 649.5,314.0 655.5,314.7 661.5,314.5 667.5,314.4 673.5,313.7 679.5,311.9 685.5,310.8 691.5,310.1 697.5,308.8 703.5,307.7 709.5,307.4 715.5,307.1 721.5,301.5 727.5,294.6 733.5,288.0 739.5,280.9 745.5,274.3 751.5,267.6 757.5,261.5 763.5,257.3 769.5,254.9 775.5,253.0 781.5,251.0 787.5,248.2 793.5,246.4 799.5,247.7 805.5,262.1 811.5,272.6 817.5,279.4 823.5,283.8 829.5,286.2 835.5,288.0 841.5,291.0 847.5,297.4 853.5,307.8 859.5,320.6 865.5,331.1 871.5,337.4 877.5,344.6 883.5,341.6 889.5,341.2 895.5,340.2 901.5,339.3 907.5,337.2 913.5,334.9 919.5,333.3 925.5,331.9 931.5,332.2 937.5,333.5 943.5,334.7 949.5,336.0 955.5,338.5 961.5,342.3 967.5,347.1 973.5,351.5 979.5,355.6 985.5,361.3 991.5,367.9 997.5,375.0 1003.5,381.5 1009.5,386.0 1015.5,388.6 1021.5,390.8 1027.5,393.1 1033.5,395.6 1039.5,398.8 1045.5,401.4 1051.5,403.0 1057.5,404.0 1063.5,404.9 1069.5,405.7 1075.5,406.0 1081.5,407.1 1087.5,408.5 1093.5,407.9 1099.5,407.8 1105.5,408.2 1111.5,408.6 1117.5,407.7 1123.5,396.5 1129.5,389.2"/>
<polyline fill="none" stroke="#ff6d00" stroke-width="1" stroke-linejoin="round" points="1.5,374.3 7.5,373.2 13.5,372.1 19.5,370.9 25.5,369.7 31.5,367.9 37.5,366.2 43.5,364.0 49.5,361.9 55.5,359.2 61.5,356.4 67.5,353.4 73.5,350.4 79.5,347.4 85.5,344.4 91.5,341.4 97.5,338.4 103.5,335.5 109.5,332.9 115.5,330.5 121.5,328.3 127.5,326.1 133.5,323.9 139.5,321.7 145.5,319.7 151.5,317.9 157.5,316.5 163.5,315.1 169.5,314.2 175.5,313.3 181.5,312.8 187.5,312.2 193.5,311.9 199.5,311.7 205.5,311.5 211.5,311.3 217.5,311.1 223.5,310.7 229.5,310.6 235.5,310.5 241.5,310.8 247.5,310.8 253.5,310.7 259.5,310.7 265.5,310.8 271.5,311.0 277.5,311.3 283.5,311.6 289.5,312.0 295.5,312.3 301.5,312.6 307.5,313.0 313.5,313.6 319.5,314.3 325.5,315.5 331.5,316.7 337.5,318.1 343.5,319.7 349.5,321.8 355.5,324.0 361.5,326.4 367.5,328.8 373.5,330.9 379.5,332.9 385.5,335.1 391.5,337.2 397.5,339.1 403.5,340.9 409.5,342.4 415.5,343.7 421.5,344.7 427.5,345.4 433.5,345.7 439.5,345.3 445.5,344.0 451.5,341.8 457.5,338.8 463.5,335.0 469.5,330.3 475.5,325.8 481.5,321.5 487.5,317.6 493.5,314.0 499.5,310.6 505.5,307.6 511.5,304.8 517.5,302.8 523.5,300.9 529.5,299.7 535.5,298.5 541.5,297.8 547.5,297.0 553.5,297.3 559.5,297.6 565.5,298.4 571.5,299.3 577.5,300.4 583.5,301.6 589.5,303.0 595.5,304.5 601.5,305.7 607.5,306.7 613.5,307.6 619.5,308.5 625.5,309.2 631.5,309.9 637.5,310.4 643.5,310.7 649.5,311.1 655.5,311.6 661.5,312.0 667.5,312.2 673.5,312.3 679.5,312.1 685.5,311.8 691.5,311.5 697.5,311.0 703.5,310.3 709.5,309.7 715.5,309.0 721.5,307.8 727.5,305.4 733.5,301.6 739.5,297.7 745.5,292.8 751.5,287.6 757.5,282.3 763.5,276.8 769.5,272.3 775.5,268.1 781.5,264.4 787.5,261.2 793.5,258.5 799.5,256.9 805.5,258.5 811.5,261.7 817.5,265.0 823.5,268.3 829.5,271.6 835.5,274.6 841.5,277.7 847.5,281.0 853.5,285.9 859.5,292.0 865.5,298.7 871.5,305.9 877.5,313.1 883.5,318.2 889.5,323.0 895.5,326.4 901.5,329.4 907.5,331.1 913.5,332.2 919.5,332.6 925.5,332.5 931.5,332.2 937.5,332.3 943.5,332.5 949.5,333.2 955.5,334.1 961.5,335.8 967.5,337.9 973.5,340.5 979.5,343.5 985.5,347.0 991.5,351.2 997.5,355.7 1003.5,360.5 1009.5,365.1 1015.5,369.4 1021.5,373.5 1027.5,377.0 1033.5,380.6 1039.5,383.9 1045.5,387.3 1051.5,390.0 1057.5,392.6 1063.5,394.8 1069.5,397.0 1075.5,398.8 1081.5,400.4 1087.5,401.8 1093.5,402.9 1099.5,403.8 1105.5,404.4 1111.5,404.8 1117.5,405.0 1123.5,403.4 1129.5,401.4"/>
</svg>
<!-- legend overlay -->
<div style="position:absolute;left:0;top:5px;width:738px;height:24px;background:rgba(255,255,255,0.55)"></div>
<div style="position:absolute;left:0;top:230px;width:276px;height:22px;background:rgba(255,255,255,0.7)"></div>
<div style="position:absolute;left:0;top:61px;width:146px;height:22px;background:rgba(255,255,255,0.7)"></div>
<div style="position:absolute;left:0;top:30px;width:182px;height:27px;background:rgba(255,255,255,0.7)"></div>
<!-- flags -->
<svg style="position:absolute;left:4px;top:5px" width="24" height="22" viewBox="0 0 24 22">
 <circle cx="14.4" cy="7.7" r="5.8" fill="#e53935"/>
 <circle cx="13.4" cy="7.6" r="2.7" fill="#fff"/><circle cx="14.3" cy="7.4" r="2.2" fill="#e53935"/>
 <circle cx="16.6" cy="8.1" r="0.95" fill="#fff"/>
 <circle cx="8.1" cy="13.9" r="6.9" fill="#fff"/>
 <clipPath id="cu"><circle cx="8.1" cy="13.9" r="5.9"/></clipPath>
 <g clip-path="url(#cu)"><rect x="0" y="7" width="16" height="14" fill="#fff"/>
 <rect x="0" y="7.8" width="16" height="2.6" fill="#e53935"/><rect x="0" y="12.3" width="16" height="2.1" fill="#e53935"/><rect x="0" y="16.5" width="16" height="3.5" fill="#e53935"/>
 <rect x="0" y="7" width="8.8" height="7.4" fill="#3f7be0"/><circle cx="3.6" cy="9.6" r="0.5" fill="#fff"/><circle cx="5.4" cy="9.6" r="0.5" fill="#fff"/><circle cx="7.2" cy="9.6" r="0.5" fill="#fff"/><circle cx="3.6" cy="11.4" r="0.5" fill="#fff"/><circle cx="5.4" cy="11.4" r="0.5" fill="#fff"/><circle cx="7.2" cy="11.4" r="0.5" fill="#fff"/><circle cx="3.6" cy="13.2" r="0.5" fill="#fff"/><circle cx="5.4" cy="13.2" r="0.5" fill="#fff"/><circle cx="7.2" cy="13.2" r="0.5" fill="#fff"/></g>
</svg>
<!-- status pill -->
<div style="position:absolute;left:301px;top:7px;width:39px;height:17px;border-radius:9px;overflow:hidden;background:linear-gradient(90deg,#d5efe9 50%,#fbd3de 50%)"></div>
<div style="position:absolute;left:307px;top:12px;width:8px;height:8px;border-radius:4px;background:#089981"></div>
<div class="t" style="left:324.5px;top:7px;font-size:16px;color:#e91e63;font-weight:bold">≈</div>

<!-- bid/ask boxes -->
<div style="position:absolute;left:5px;top:32px;width:65px;height:22px;border:1px solid #f23645;border-radius:4px"></div>
<div style="position:absolute;left:110px;top:32px;width:65px;height:22px;border:1px solid #2962ff;border-radius:4px"></div>
<!-- collapse button -->
<div style="position:absolute;left:6px;top:86px;width:27px;height:19px;border:1px solid #d5d8df;border-radius:4px;background:#fff"></div>
<svg style="position:absolute;left:15px;top:92px" width="12" height="8" viewBox="0 0 12 8"><path d="M2 6 L6 2.2 L10 6" fill="none" stroke="#131722" stroke-width="1.5"/></svg>
<!-- currency dropdown -->
<div style="position:absolute;left:1196px;top:4px;width:60px;height:24px;border:1px solid #e0e3eb;border-radius:4px;background:#fff"></div>
<svg style="position:absolute;left:1241px;top:13px" width="10" height="8" viewBox="0 0 10 8"><path d="M2.9 3.4 L5.4 5.8 L7.9 3.4" fill="none" stroke="#131722" stroke-width="1.4"/></svg>
<!-- axis value labels -->
<div style="position:absolute;left:1192px;top:34px;width:59px;height:16px;background:#f23645"></div>
<div style="position:absolute;left:1192px;top:50px;width:59px;height:17px;background:#3030f2"></div>
<div style="position:absolute;left:1192px;top:381px;width:56px;height:17px;background:#26a69a;border-radius:0 2px 2px 0"></div>
<div style="position:absolute;left:1192px;top:398px;width:56px;height:17px;background:#2962ff;border-radius:0 2px 2px 0"></div>
<div style="position:absolute;left:1192px;top:415px;width:59px;height:17px;background:#ff6d00"></div>
<div class="t" id="title" style="left:28.8px;top:7.4px;font-size:15px;color:#131722;transform-origin:0 50%;transform:scaleX(1.0767);line-height:18px">U.S. Dollar / Turkish Lira</div>
<div class="t" id="td1" style="left:208.0px;top:7.4px;font-size:15px;color:#131722;transform-origin:0 50%;transform:scaleX(1.0000);line-height:18px;font-weight:bold">·</div>
<div class="t" id="t1d" style="left:217.6px;top:7.4px;font-size:15px;color:#131722;transform-origin:0 50%;transform:scaleX(0.9158);line-height:18px">1D</div>
<div class="t" id="td2" style="left:238.4px;top:7.4px;font-size:15px;color:#131722;transform-origin:0 50%;transform:scaleX(1.0000);line-height:18px;font-weight:bold">·</div>
<div class="t" id="tfx" style="left:247.3px;top:7.4px;font-size:15px;color:#131722;transform-origin:0 50%;transform:scaleX(0.8907);line-height:18px">FXCM</div>
<div class="t" id="o1" style="left:356.2px;top:10.1px;font-size:13px;color:#131722;transform-origin:0 50%;transform:scaleX(0.9300);">O</div>
<div class="t" id="o2" style="left:367.3px;top:10.1px;font-size:13px;color:#f23645;transform-origin:0 50%;transform:scaleX(0.9463);">32.52310</div>
<div class="t" id="h1" style="left:424.6px;top:10.1px;font-size:13px;color:#131722;transform-origin:0 50%;transform:scaleX(0.9800);">H</div>
<div class="t" id="h2" style="left:434.7px;top:10.1px;font-size:13px;color:#f23645;transform-origin:0 50%;transform:scaleX(0.9630);">32.65379</div>
<div class="t" id="l1" style="left:493.1px;top:10.1px;font-size:13px;color:#131722;transform-origin:0 50%;transform:scaleX(0.8500);">L</div>
<div class="t" id="l2" style="left:500.3px;top:10.1px;font-size:13px;color:#f23645;transform-origin:0 50%;transform:scaleX(0.9574);">32.47098</div>
<div class="t" id="c1" style="left:558.4px;top:10.1px;font-size:13px;color:#131722;transform-origin:0 50%;transform:scaleX(0.9000);">C</div>
<div class="t" id="c2" style="left:568.0px;top:10.1px;font-size:13px;color:#f23645;transform-origin:0 50%;transform:scaleX(0.9463);">32.50977</div>
<div class="t" id="ch1" style="left:626.8px;top:10.1px;font-size:13px;color:#f23645;transform-origin:0 50%;transform:scaleX(0.9218);">−0.01333</div>
<div class="t" id="ch2" style="left:683.9px;top:10.1px;font-size:13px;color:#f23645;transform-origin:0 50%;transform:scaleX(0.8887);">(−0.04%)</div>
<div class="t" id="bid" style="left:13.3px;top:38.0px;font-size:13px;color:#f23645;transform-origin:0 50%;transform:scaleX(0.9566);">32.5097<span style="font-size:10px;position:relative;top:-3px">3</span></div>
<div class="t" id="spr" style="left:80.7px;top:39.0px;font-size:11px;color:#131722;transform-origin:0 50%;transform:scaleX(0.9905);">52.7</div>
<div class="t" id="ask" style="left:118.3px;top:38.0px;font-size:13px;color:#2962ff;transform-origin:0 50%;transform:scaleX(0.9509);">32.5150<span style="font-size:10px;position:relative;top:-3px">0</span></div>
<div class="t" id="sma1" style="left:5.9px;top:66.0px;font-size:13px;color:#131722;transform-origin:0 50%;transform:scaleX(0.8321);">SMA</div>
<div class="t" id="sma1b" style="left:33.6px;top:66.0px;font-size:13px;color:#131722;transform-origin:0 50%;transform:scaleX(0.9286);">50</div>
<div class="t" id="sma1c" style="left:51.2px;top:66.0px;font-size:13px;color:#131722;transform-origin:0 50%;transform:scaleX(0.9533);">close</div>
<div class="t" id="sma2" style="left:88.7px;top:66.0px;font-size:13px;color:#3a34e0;transform-origin:0 50%;transform:scaleX(0.9574);">32.25742</div>
<div class="t" id="m1" style="left:5.6px;top:234.4px;font-size:13px;color:#131722;transform-origin:0 50%;transform:scaleX(0.8737);">MACD</div>
<div class="t" id="m1b" style="left:43.8px;top:234.4px;font-size:13px;color:#131722;transform-origin:0 50%;transform:scaleX(0.8714);">12</div>
<div class="t" id="m1c" style="left:60.9px;top:234.4px;font-size:13px;color:#131722;transform-origin:0 50%;transform:scaleX(0.8929);">26</div>
<div class="t" id="m1d" style="left:78.4px;top:234.4px;font-size:13px;color:#131722;transform-origin:0 50%;transform:scaleX(0.9500);">close</div>
<div class="t" id="m2" style="left:115.1px;top:234.4px;font-size:13px;color:#26a69a;transform-origin:0 50%;transform:scaleX(0.9596);">0.03292</div>
<div class="t" id="m3" style="left:167.1px;top:234.4px;font-size:13px;color:#2962ff;transform-origin:0 50%;transform:scaleX(0.9596);">0.03169</div>
<div class="t" id="m4" style="left:219.4px;top:234.4px;font-size:13px;color:#ff6d00;transform-origin:0 50%;transform:scaleX(0.9382);">−0.00123</div>
<div class="t" id="try" style="left:1200.0px;top:10.8px;font-size:12px;color:#131722;transform-origin:0 50%;transform:scaleX(0.8500);">TRY</div>
<div class="t" id="a31" style="left:1199.8px;top:67.6px;font-size:12px;color:#131722;transform-origin:0 50%;transform:scaleX(0.9700);">31.00000</div>
<div class="t" id="a30" style="left:1199.8px;top:97.8px;font-size:12px;color:#131722;transform-origin:0 50%;transform:scaleX(0.9700);">30.00000</div>
<div class="t" id="a29" style="left:1199.8px;top:128.7px;font-size:12px;color:#131722;transform-origin:0 50%;transform:scaleX(0.9700);">29.00000</div>
<div class="t" id="a28" style="left:1199.8px;top:159.5px;font-size:12px;color:#131722;transform-origin:0 50%;transform:scaleX(0.9700);">28.00000</div>
<div class="t" id="a27" style="left:1199.8px;top:190.6px;font-size:12px;color:#131722;transform-origin:0 50%;transform:scaleX(0.9700);">27.00000</div>
<div class="t" id="b4" style="left:1199.8px;top:251.9px;font-size:12px;color:#131722;transform-origin:0 50%;transform:scaleX(0.9860);">0.40000</div>
<div class="t" id="b3" style="left:1199.8px;top:287.5px;font-size:12px;color:#131722;transform-origin:0 50%;transform:scaleX(0.9860);">0.30000</div>
<div class="t" id="b2" style="left:1199.8px;top:323.5px;font-size:12px;color:#131722;transform-origin:0 50%;transform:scaleX(0.9860);">0.20000</div>
<div class="t" id="b1" style="left:1199.8px;top:359.1px;font-size:12px;color:#131722;transform-origin:0 50%;transform:scaleX(0.9860);">0.10000</div>
<div class="t" id="bm1" style="left:1199.5px;top:430.7px;font-size:12px;color:#131722;transform-origin:0 50%;transform:scaleX(0.9840);">−0.10000</div>
<div class="t" id="lt" style="left:1200.5px;top:36.3px;font-size:12px;color:#ffd5d9;transform-origin:0 50%;transform:scaleX(0.9479);font-weight:bold">12:56:42</div>
<div class="t" id="ls" style="left:1200.6px;top:52.8px;font-size:12px;color:#fff;transform-origin:0 50%;transform:scaleX(0.9440);font-weight:bold">32.25742</div>
<div class="t" id="lh" style="left:1200.2px;top:383.7px;font-size:12px;color:#fff;transform-origin:0 50%;transform:scaleX(0.9605);font-weight:bold">0.03292</div>
<div class="t" id="lm" style="left:1200.2px;top:400.7px;font-size:12px;color:#fff;transform-origin:0 50%;transform:scaleX(0.9605);font-weight:bold">0.03169</div>
<div class="t" id="lg" style="left:1199.6px;top:417.7px;font-size:12px;color:#fff;transform-origin:0 50%;transform:scaleX(0.9600);font-weight:bold">−0.00123</div>
<div class="t" id="tOct" style="left:63.6px;top:458.8px;font-size:12px;color:#131722;transform-origin:0 50%;transform:scaleX(0.9895);">Oct</div>
<div class="t" id="tNov" style="left:195.2px;top:458.8px;font-size:12px;color:#131722;transform-origin:0 50%;transform:scaleX(0.9429);">Nov</div>
<div class="t" id="tDec" style="left:327.1px;top:458.8px;font-size:12px;color:#131722;transform-origin:0 50%;transform:scaleX(0.9286);">Dec</div>
<div class="t" id="t2024" style="left:449.3px;top:458.8px;font-size:12px;color:#131722;transform-origin:0 50%;transform:scaleX(1.0370);font-weight:bold">2024</div>
<div class="t" id="tFeb" style="left:585.0px;top:458.8px;font-size:12px;color:#131722;transform-origin:0 50%;transform:scaleX(0.9429);">Feb</div>
<div class="t" id="tMar" style="left:711.2px;top:458.8px;font-size:12px;color:#131722;transform-origin:0 50%;transform:scaleX(0.9619);">Mar</div>
<div class="t" id="tApr" style="left:837.2px;top:458.8px;font-size:12px;color:#131722;transform-origin:0 50%;transform:scaleX(1.0105);">Apr</div>
<div class="t" id="tMay" style="left:968.4px;top:458.8px;font-size:12px;color:#131722;transform-origin:0 50%;transform:scaleX(0.9261);">May</div>
<div class="t" id="tJun" style="left:1107.8px;top:458.8px;font-size:12px;color:#131722;transform-origin:0 50%;transform:scaleX(0.9895);">Jun</div>
<div class="t" id="tv" style="left:46.3px;top:418.0px;font-size:20px;color:#131722;transform-origin:0 50%;transform:scaleX(1.0308);font-weight:bold;line-height:24px;text-shadow:0 0 1px #fff,0 0 2px #fff,0 0 2px #fff,0 0 3px #fff">TradingView</div>

<!-- time axis -->
<svg style="position:absolute;left:1217px;top:458px" width="17" height="15" viewBox="0 0 17 15"><path d="M4.9 1.2 H12.1 L15.7 7.5 L12.1 13.8 H4.9 L1.3 7.5 Z" fill="none" stroke="#131722" stroke-width="1.2" stroke-linejoin="round"/><circle cx="8.5" cy="7.5" r="2" fill="none" stroke="#131722" stroke-width="1.2"/></svg>
<!-- event icons -->
<svg style="position:absolute;left:1116px;top:173px" width="40" height="50" viewBox="0 0 40 50">
 <circle cx="13.2" cy="12" r="9.3" fill="#fff" stroke="#9c27b0" stroke-width="1.5"/>
 <path d="M15.9 6 L9.2 13.2 H12.9 L10.9 18.2 L17.4 10.9 H13.8 Z" fill="#9c27b0"/>
 <g><circle cx="26.4" cy="36.7" r="9.6" fill="#fff" stroke="#e53935" stroke-width="1.5"/><clipPath id="clipB"><circle cx="26.4" cy="36.7" r="7.2"/></clipPath><g clip-path="url(#clipB)"><rect x="18.4" y="29" width="16" height="16" fill="#fff"/><rect x="18.4" y="29.3" width="16" height="2.6" fill="#ef5350"/><rect x="18.4" y="35.3" width="16" height="3" fill="#e53935"/><rect x="18.4" y="41.2" width="16" height="3.2" fill="#e53935"/><rect x="18.4" y="29" width="8.6" height="9.3" fill="#4a7de0"/><circle cx="20.8" cy="31.3" r="0.6" fill="#fff"/><circle cx="23.2" cy="31.3" r="0.6" fill="#fff"/><circle cx="25.6" cy="31.3" r="0.6" fill="#fff"/><circle cx="20.8" cy="33.7" r="0.6" fill="#fff"/><circle cx="23.2" cy="33.7" r="0.6" fill="#fff"/><circle cx="25.6" cy="33.7" r="0.6" fill="#fff"/><circle cx="20.8" cy="36.1" r="0.6" fill="#fff"/><circle cx="23.2" cy="36.1" r="0.6" fill="#fff"/><circle cx="25.6" cy="36.1" r="0.6" fill="#fff"/></g></g>
 <g><circle cx="12.6" cy="36.7" r="10.8" fill="#fff"/><circle cx="12.6" cy="36.7" r="9.6" fill="#fff" stroke="#e53935" stroke-width="1.5"/><clipPath id="clipA"><circle cx="12.6" cy="36.7" r="7.2"/></clipPath><g clip-path="url(#clipA)"><rect x="4.6" y="29" width="16" height="16" fill="#fff"/><rect x="4.6" y="29.3" width="16" height="2.6" fill="#ef5350"/><rect x="4.6" y="35.3" width="16" height="3" fill="#e53935"/><rect x="4.6" y="41.2" width="16" height="3.2" fill="#e53935"/><rect x="4.6" y="29" width="8.6" height="9.3" fill="#4a7de0"/><circle cx="7.0" cy="31.3" r="0.6" fill="#fff"/><circle cx="9.4" cy="31.3" r="0.6" fill="#fff"/><circle cx="11.8" cy="31.3" r="0.6" fill="#fff"/><circle cx="7.0" cy="33.7" r="0.6" fill="#fff"/><circle cx="9.4" cy="33.7" r="0.6" fill="#fff"/><circle cx="11.8" cy="33.7" r="0.6" fill="#fff"/><circle cx="7.0" cy="36.1" r="0.6" fill="#fff"/><circle cx="9.4" cy="36.1" r="0.6" fill="#fff"/><circle cx="11.8" cy="36.1" r="0.6" fill="#fff"/></g></g>
</svg>
<!-- TradingView logo -->
<svg style="position:absolute;left:8px;top:421px" width="32" height="17" viewBox="0 0 32 17">
 <path d="M0.9 1.2 H13.3 V15.6 H6.4 V7 H0.9 Z" fill="#131722"/>
 <circle cx="17.9" cy="3.8" r="2.5" fill="#131722"/>
 <path d="M23.9 1.2 H30.8 L24.8 15.6 H17.9 Z" fill="#131722"/>
</svg>
</body></html>
